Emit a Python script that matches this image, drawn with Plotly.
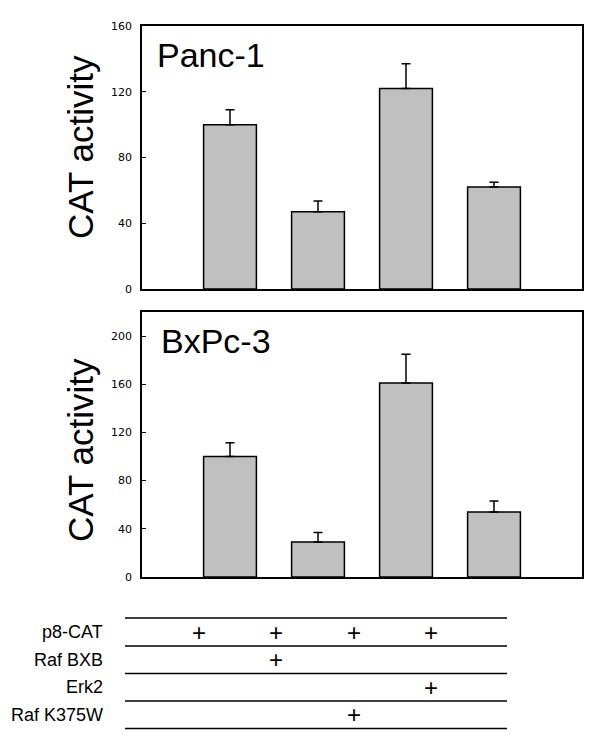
import plotly.graph_objects as go
from plotly.subplots import make_subplots

# ---- data ----
conditions = [1, 2, 3, 4]
panc_values = [100, 47, 122, 62]
panc_errors = [9, 6.5, 15, 3]
bxpc_values = [100, 29, 161, 54]
bxpc_errors = [11.5, 8, 24, 9]
panel_names = ["Panc-1", "BxPc-3"]
y_title = "CAT activity"
panc_ticks = [0, 40, 80, 120, 160]
bxpc_ticks = [0, 40, 80, 120, 160, 200]
table_rows = ["p8-CAT", "Raf BXB", "Erk2", "Raf K375W"]
table_marks = [
    [1, 1, 1, 1],
    [0, 1, 0, 0],
    [0, 0, 0, 1],
    [0, 0, 1, 0],
]

# ---- layout helpers (screen pixel -> paper); page body has an 8px margin ----
OFF = 8
W, H = 600, 755
ML, MT = 142 - OFF, 26 - OFF
PW = 440
PBOT = 577 - OFF
MR = W - ML - PW
MB = H - PBOT
PH = PBOT - MT


def X(px):
    return (px - OFF - ML) / PW


def Y(py):
    return (PBOT - (py - OFF)) / PH


fig = make_subplots(rows=2, cols=1, vertical_spacing=0.04)

bar_style = dict(marker=dict(color="#c0c0c0", line=dict(color="black", width=1.5)),
                 width=0.6, showlegend=False, hoverinfo="skip")
err_style = dict(type="data", symmetric=False, color="black", thickness=1.5, width=4.5)

fig.add_trace(go.Bar(x=conditions, y=panc_values,
                     error_y=dict(array=panc_errors, arrayminus=[0] * 4, **err_style),
                     **bar_style), row=1, col=1)
fig.add_trace(go.Bar(x=conditions, y=bxpc_values,
                     error_y=dict(array=bxpc_errors, arrayminus=[0] * 4, **err_style),
                     **bar_style), row=2, col=1)

axis_common = dict(showline=True, linecolor="black", linewidth=1.5, mirror=True,
                   showgrid=False, zeroline=False)
for r in (1, 2):
    fig.update_xaxes(range=[0, 5], showticklabels=False, ticks="", row=r, col=1, **axis_common)

fig.update_yaxes(range=[0, 160], tickvals=panc_ticks, ticks="inside", ticklen=4,
                 tickcolor="black", ticklabelstandoff=6,
                 tickfont=dict(family="DejaVu Sans", size=11, color="black"),
                 row=1, col=1, **axis_common)
fig.update_yaxes(range=[0, 220], tickvals=bxpc_ticks, ticks="inside", ticklen=4,
                 tickcolor="black", ticklabelstandoff=6,
                 tickfont=dict(family="DejaVu Sans", size=11, color="black"),
                 row=2, col=1, **axis_common)

fig.update_layout(
    xaxis=dict(domain=[0, 1]), xaxis2=dict(domain=[0, 1]),
    yaxis=dict(domain=[Y(289), 1]), yaxis2=dict(domain=[0, Y(312)]),
    width=W, height=H, margin=dict(l=ML, r=MR, t=MT, b=MB),
    plot_bgcolor="white", paper_bgcolor="white", bargap=0.4,
)

annotations = []
# panel names
annotations.append(dict(text=panel_names[0], x=X(155), y=Y(55), xref="paper", yref="paper",
                        xanchor="left", yanchor="middle", showarrow=False,
                        font=dict(family="Liberation Sans, Arial", size=34, color="black")))
annotations.append(dict(text=panel_names[1], x=X(159), y=Y(341), xref="paper", yref="paper",
                        xanchor="left", yanchor="middle", showarrow=False,
                        font=dict(family="Liberation Sans, Arial", size=34, color="black")))
# y titles
for cy in (147, 450):
    annotations.append(dict(text=y_title, x=X(80), y=Y(cy), xref="paper", yref="paper",
                            xanchor="center", yanchor="middle", textangle=-90, showarrow=False,
                            font=dict(family="Liberation Sans, Arial", size=35, color="black")))

# table
line_ys = [618, 646, 673.5, 701, 728.5]
col_xs = [199, 276, 354, 431]
shapes = []
for ly in line_ys:
    shapes.append(dict(type="line", xref="paper", yref="paper", x0=X(125), x1=X(507),
                       y0=Y(ly), y1=Y(ly), line=dict(color="black", width=1.5)))
for i, name in enumerate(table_rows):
    cy = (line_ys[i] + line_ys[i + 1]) / 2
    annotations.append(dict(text=name, x=X(105), y=Y(cy), xref="paper", yref="paper",
                            xanchor="right", yanchor="middle", showarrow=False,
                            font=dict(family="Liberation Sans, Arial", size=18, color="black")))
    for j, m in enumerate(table_marks[i]):
        if m:
            annotations.append(dict(text="+", x=X(col_xs[j]), y=Y(cy), xref="paper", yref="paper",
                                    xanchor="center", yanchor="middle", showarrow=False,
                                    font=dict(family="Liberation Sans, Arial", size=24, color="black")))

fig.update_layout(annotations=annotations, shapes=shapes)
fig.write_html("out.html")
